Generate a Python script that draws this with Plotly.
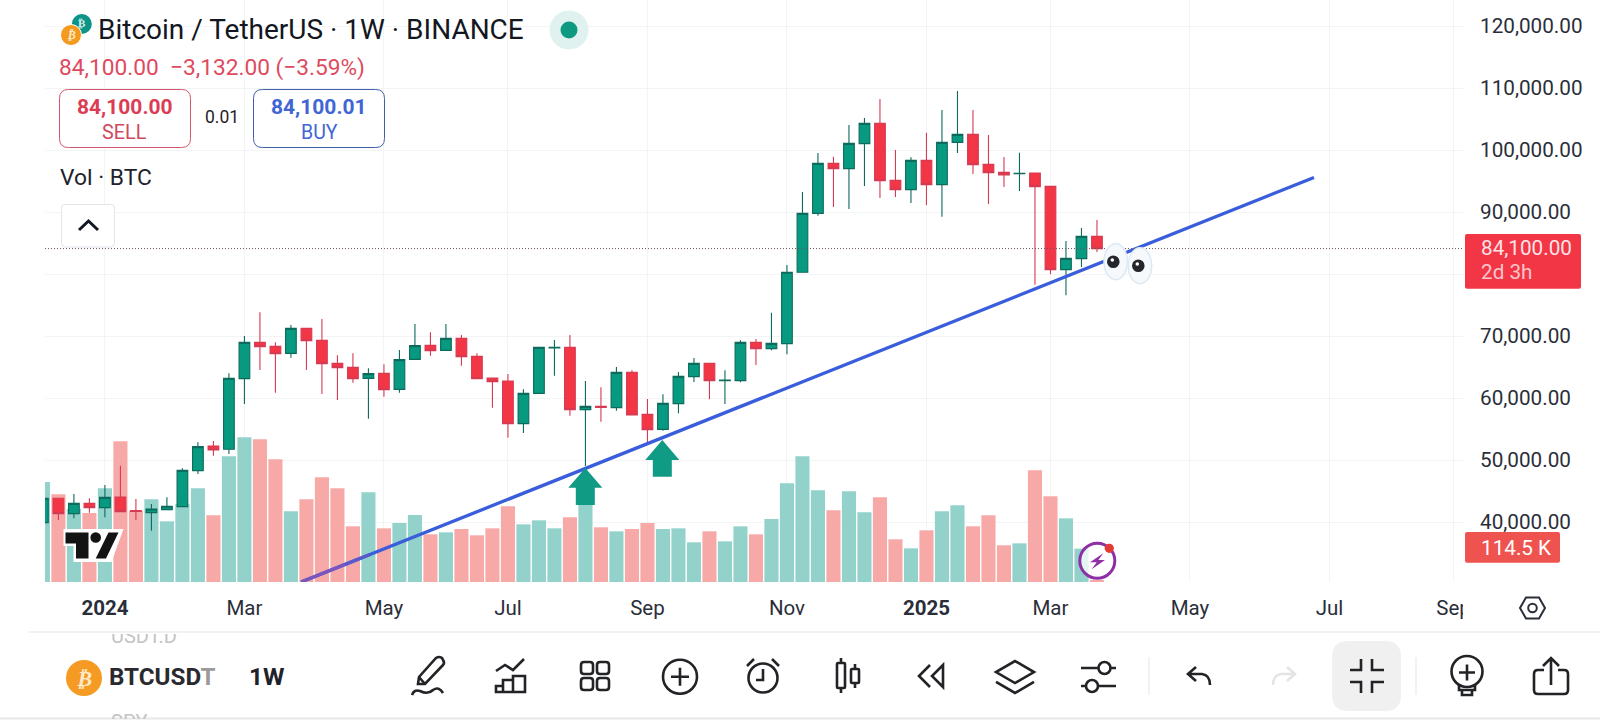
import re
import pandas as pd
import plotly.graph_objects as go

# ---------- data ----------
weeks = pd.date_range("2023-12-04", periods=69, freq="7D")
opens = [39895, 43820, 41345, 43012, 42313, 44034, 41830, 41507, 41991, 42475, 48280, 52260, 51722, 63118, 68978, 68333, 67204, 71236, 69301, 65592, 64946, 63172, 63978, 61398, 66237, 68495, 67688, 69624, 66721, 63226, 62742, 55860, 60753, 68065, 68172, 58119, 58656, 58441, 64140, 57366, 54946, 59086, 63441, 65592, 62796, 62796, 68978, 67957, 68764, 80271, 89786, 97850, 96990, 101022, 104301, 95108, 93603, 98334, 94409, 101237, 102527, 97689, 96398, 96183, 96291, 94140, 80701, 82475, 86076]
highs = [44000, 43820, 44518, 43820, 45969, 49087, 43712, 42905, 43980, 48657, 52850, 53066, 63978, 70000, 73817, 68978, 71774, 71236, 72742, 66882, 67204, 64785, 65430, 67742, 71935, 70591, 71935, 70161, 67204, 63280, 63871, 61398, 68280, 69355, 70161, 62742, 61720, 65000, 64463, 59839, 60592, 64194, 66452, 65592, 64463, 69301, 69516, 73763, 81453, 93227, 99517, 98925, 104032, 105161, 108226, 99980, 98818, 102796, 106452, 109516, 106452, 102420, 98871, 99570, 96291, 94140, 85323, 87421, 88710]
lows = [39500, 40324, 40593, 41507, 40754, 41668, 40324, 38604, 41991, 42475, 47744, 50700, 50968, 59033, 64516, 60860, 66505, 64516, 60645, 59678, 62473, 56667, 60215, 60860, 66237, 66828, 67688, 65215, 63118, 58441, 53603, 54355, 60753, 63602, 57150, 49034, 56183, 57957, 57258, 52692, 54731, 57527, 62581, 59785, 59033, 62527, 65323, 67688, 67043, 80271, 89410, 90808, 90485, 94194, 92259, 92420, 91452, 91130, 89248, 99517, 96130, 91291, 94033, 93388, 78281, 79948, 76561, 81131, 83550]
closes = [43820, 41345, 43012, 42313, 43980, 41668, 41722, 42098, 42529, 48334, 52152, 51614, 63172, 68978, 68280, 67150, 71236, 69247, 65538, 64893, 63118, 63925, 61344, 66183, 68441, 67634, 69624, 66667, 63118, 62635, 55860, 60753, 68172, 68172, 58119, 58656, 58495, 64140, 57258, 54892, 59140, 63495, 65592, 62796, 62903, 68978, 67957, 68817, 80271, 89786, 97850, 96990, 101076, 104301, 95055, 93603, 98334, 94409, 101237, 102527, 97635, 96345, 95969, 96237, 94087, 80701, 82528, 86076, 84100]
volumes_k = [343.5, 301.1, 251.9, 237, 321.7, 483.2, 243.9, 284, 208.4, 269.1, 321.7, 229, 431.7, 496.9, 490.1, 421.4, 242.7, 284, 359.5, 321.7, 191.2, 308, 184.3, 202.7, 230.1, 163.7, 170.6, 182.1, 160.3, 184.3, 259.9, 198.1, 211.8, 184.3, 222.1, 292, 187.8, 174, 182.1, 202.7, 182.1, 184.3, 136.3, 174, 139.7, 191.2, 163.7, 216.4, 338.9, 431.7, 314.9, 246.2, 311.4, 239.3, 290.8, 146.6, 115.6, 177.5, 242.7, 263.4, 191.2, 229, 126, 132.8, 383.6, 294.3, 218.7, 114.5, 4.6]

price_ticks = [40000, 50000, 60000, 70000, 80000, 90000, 100000, 110000, 120000]
price_labels = ["40,000.00", "50,000.00", "60,000.00", "70,000.00", "", "90,000.00", "100,000.00", "110,000.00", "120,000.00"]
time_ticks = ["2024-01-01", "2024-03-04", "2024-05-06", "2024-07-01", "2024-09-02", "2024-11-04",
              "2025-01-06", "2025-03-03", "2025-05-05", "2025-07-07", "2025-09-01"]
time_labels = ["<b>2024</b>", "Mar", "May", "Jul", "Sep", "Nov", "<b>2025</b>", "Mar", "May", "Jul", "Sep"]
trend_dates = ["2024-03-29 14:00", "2025-06-30"]
trend_prices = [30323, 95563]
trend_purple_dates = ["2024-03-29 14:00", "2024-04-18 12:00"]
trend_purple_prices = [30323, 33161]
trend_blend_dates = ["2024-04-18 12:00", "2024-04-29 16:00"]
trend_blend_prices = [33161, 34758]
last_price = 84100

# ---------- page geometry ----------
L, R, B = 45, 1463, 582
FONT = "Roboto"
INK = "#1f222b"
UP, UP_EDGE, DOWN, DOWN_EDGE = "#089981", "#0c6b5c", "#f23645", "#d63a52"
TEAL_VOL, PINK_VOL = "#92d2cb", "#f7a9a7"


def px(x):
    return (x - L) / (R - L)


def py(y):
    return (B - y) / B


def path(d):
    def rep(m):
        return f"{px(float(m.group(1))):.5f} {py(float(m.group(2))):.5f}"
    return re.sub(r"(-?[\d.]+) (-?[\d.]+)", rep, d)


shapes = []
ann = []


def sh_path(d, line=None, width=0, fill="rgba(0,0,0,0)"):
    shapes.append(dict(type="path", xref="paper", yref="paper", path=path(d), layer="above",
                       fillcolor=fill, line=dict(color=line or "rgba(0,0,0,0)", width=width)))


def rrect(x0, y0, x1, y1, r):
    return (f"M {x0 + r} {y0} L {x1 - r} {y0} Q {x1} {y0} {x1} {y0 + r} L {x1} {y1 - r} Q {x1} {y1} {x1 - r} {y1} "
            f"L {x0 + r} {y1} Q {x0} {y1} {x0} {y1 - r} L {x0} {y0 + r} Q {x0} {y0} {x0 + r} {y0} Z")


def ellipse(cx, cy, rx, ry, fill="rgba(0,0,0,0)", line=None, width=0):
    shapes.append(dict(type="circle", xref="paper", yref="paper", layer="above",
                       x0=px(cx - rx), x1=px(cx + rx), y0=py(cy + ry), y1=py(cy - ry), fillcolor=fill,
                       line=dict(color=line or "rgba(0,0,0,0)", width=width)))


def text(s, x, y, size, color=INK, anchor="left", **kw):
    ann.append(dict(text=s, x=px(x), y=py(y), xref="paper", yref="paper", xanchor=anchor, yanchor="middle",
                    showarrow=False, font=dict(family=FONT, size=size, color=color), borderpad=0, **kw))


# ---------- header ----------
ellipse(81.8, 24, 10, 10, fill="#0d9488")
text("<b>₿</b>", 81.8, 24, 11, "#d5f0ec", "center")
ellipse(71, 35, 10.5, 10.5, fill="#f39a1f", line="#ffffff", width=1)
text("<b><i>₿</i></b>", 71, 35, 12, "#ffe9c8", "center")
text("Bitcoin / TetherUS · 1W · BINANCE", 97, 29.5, 28, "#131722")
ellipse(569, 30, 19.5, 19.5, fill="#dff2ef")
ellipse(569, 30, 8.5, 8.5, fill="#0e9981")
text("84,100.00  −3,132.00 (−3.59%)", 58, 67, 22.7, "#de4a60")
sh_path(rrect(59.5, 89.5, 190.5, 147.5, 9), line="#d2566c", width=1, fill="#ffffff")
sh_path(rrect(253.5, 89.5, 384.5, 147.5, 9), line="#3f5fa8", width=1, fill="#ffffff")
text("<b>84,100.00</b>", 125, 107, 21, "#dc3c55", "center")
text("SELL", 124.5, 133, 19.8, "#cf4a60", "center")
text("0.01", 222, 117, 17.5, "#1f222b", "center")
text("<b>84,100.01</b>", 319, 107, 21, "#3f66d4", "center")
text("BUY", 319, 133, 19.5, "#3f66d4", "center")
text("Vol · BTC", 58.5, 177, 22.8, "#1f222b")
sh_path(rrect(61.5, 204.5, 114.5, 247, 4), line="#e2e4ea", width=1, fill="#ffffff")
sh_path("M 79 230 L 88.5 221 L 98 230", line="#131722", width=3)

# ---------- chart decorations ----------
for x, tip, base, bottom in [(585.3, 468, 487.7, 505), (662.3, 440, 460, 476.7)]:
    sh_path(f"M {x} {tip} L {x + 17} {base} L {x + 9.5} {base} L {x + 9.5} {bottom} L {x - 9.5} {bottom} "
            f"L {x - 9.5} {base} L {x - 17} {base} Z", fill="#0f9b84")

# TradingView watermark
sh_path("M 63.5 529 L 123.5 529 L 111.5 562 L 73.5 562 L 73.5 546 L 63.5 546 Z", fill="#ffffff")
sh_path("M 65.5 532.5 L 88.5 532.5 L 88.5 558.5 L 76 558.5 L 76 543.5 L 65.5 543.5 Z", fill="#131313")
ellipse(95.7, 537.5, 5.3, 5.3, fill="#131313")
sh_path("M 108.5 532.5 L 118.5 532.5 L 106 558.5 L 95.7 558.5 Z", fill="#131313")

# eyes
ellipse(1115.7, 261.7, 11.7, 18, fill="#f5f9fc", line="#dce9f4", width=1.5)
ellipse(1140, 265.7, 11.7, 18, fill="#f5f9fc", line="#dce9f4", width=1.5)
ellipse(1113.3, 261.7, 6.3, 6.3, fill="#24262b")
ellipse(1138.3, 265.7, 6.3, 6.3, fill="#24262b")
ellipse(1112.3, 260, 1.8, 1.8, fill="#ffffff")
ellipse(1137.3, 264, 1.8, 1.8, fill="#ffffff")

# lightning badge
ellipse(1097.3, 560.7, 17.5, 17.5, fill="rgba(255,255,255,0.75)", line="#8e2fa6", width=3)
sh_path("M 1103.3 553.3 L 1090 562.3 L 1096.7 562.3 L 1091.7 569.3 L 1105 560 L 1098.3 560 Z", fill="#8e2fa6")
ellipse(1109.3, 548.3, 4.6, 4.6, fill="#e53935")

# price-axis tags
sh_path("M 1463 585 L 1477 585 L 1477 630 L 1463 630 Z", fill="#ffffff")
sh_path(rrect(1465, 234, 1581, 288.7, 2), fill="#f23645")
text("84,100.00", 1479.5, 248, 20.7, "#fde4e7")
text("2d 3h", 1479.5, 272, 20.7, "#fbc6cd")
sh_path(rrect(1465, 532, 1560, 562.7, 2), fill="#ef5350")
text("114.5 K", 1479.5, 548, 20.7, "#ffffff")
sh_path("M 1520 608 L 1526 597.5 L 1539 597.5 L 1545 608 L 1539 618.5 L 1526 618.5 Z", line="#2a2e39", width=2)
ellipse(1532.5, 608, 4.3, 4.3, line="#2a2e39", width=2)

# ---------- bottom bar ----------
sh_path("M 29 632 L 1600 632", line="#ececec", width=1.5)
sh_path("M 0 718.5 L 1600 718.5", line="#e8e8e8", width=2)
ellipse(84, 678, 18, 18, fill="#f59a23")
text("<b><i>₿</i></b>", 84, 678, 22, "#ffe9c8", "center")
ann.append(dict(text="USDT.D", x=px(110), y=py(633), xref="paper", yref="paper", xanchor="left", yanchor="top",
                showarrow=False, height=14, valign="bottom", borderpad=0,
                font=dict(family=FONT, size=20, color="#c4c4c4")))
ann.append(dict(text="SPY", x=px(110), y=py(709), xref="paper", yref="paper", xanchor="left", yanchor="top",
                showarrow=False, height=9, valign="top", borderpad=0,
                font=dict(family=FONT, size=20, color="#c4c4c4")))
text("<b>BTCUSD</b><span style='color:#9a9a9a'><b>T</b></span>", 108, 677, 24.2, "#2a2a2e")
text("<b>1W</b>", 267, 676, 24.5, "#1f222b", "center")

S = dict(line="#222326", width=2.6)
# pencil
sh_path("M 418 684 L 419 677 L 436 658 Q 439 656 442 658 L 443 660 Q 445 663 443 665 L 425 684 Z", **S)
sh_path("M 419 677 L 425 684", **S)
sh_path("M 412 695 Q 414 689 420 691 Q 428 695 433 690 Q 439 686 443 693", **S)
# chart
sh_path("M 496 671 L 505 665 L 513 670 L 524 659", **S)
sh_path("M 496 692 L 496 686 L 503 686 L 503 692 Z M 503 692 L 503 680 L 513 680 L 513 692 Z M 513 692 L 513 676 L 525 676 L 525 692 Z", **S)
# grid
for gx, gy in [(581, 662), (597, 662), (581, 678), (597, 678)]:
    sh_path(rrect(gx, gy, gx + 12, gy + 12, 3), **S)
# plus
ellipse(680, 676.7, 17, 17, line="#222326", width=2.6)
sh_path("M 671 676.7 L 689 676.7 M 680 667.7 L 680 685.7", **S)
# alarm
ellipse(763, 678, 14.5, 14.5, line="#222326", width=2.6)
sh_path("M 763 669 L 763 680 L 756 680 M 747 666 L 754 659 M 779 666 L 772 659", **S)
# candles
sh_path(rrect(837, 663, 845, 688, 1), **S)
sh_path("M 841 658 L 841 663 M 841 688 L 841 693", **S)
sh_path(rrect(851, 669, 859, 683, 1), **S)
sh_path("M 855 664 L 855 669 M 855 683 L 855 688", **S)
# rewind
sh_path("M 930 665 L 919 676 L 930 687 M 943 665 L 932 676 L 943 687 Z", **S)
# layers
sh_path("M 1015 661 L 1034 672 L 1015 683 L 996 672 Z", **S)
sh_path("M 996 682 L 1015 693 L 1034 682", **S)
# sliders
sh_path("M 1081 668 L 1098 668 M 1111 668 L 1116 668 M 1081 686 L 1086 686 M 1098 686 L 1116 686", **S)
ellipse(1104.5, 668, 6, 6, line="#222326", width=2.6)
ellipse(1092, 686, 6, 6, line="#222326", width=2.6)
# dividers
sh_path("M 1149 657 L 1149 695", line="#eeeeee", width=1.5)
sh_path("M 1416 657 L 1416 695", line="#eeeeee", width=1.5)
# undo, redo
sh_path("M 1196 667 L 1188 674 L 1196 681 M 1188 674 L 1202 674 Q 1210 675 1210 685", **S)
sh_path("M 1287 667 L 1295 674 L 1287 681 M 1295 674 L 1281 674 Q 1273 675 1273 685", line="#e4e4e4", width=2.6)
# shrink
sh_path(rrect(1332, 641, 1401, 711, 16), fill="#f0f0f0")
sh_path("M 1350 670 L 1361 670 L 1361 659 M 1372 659 L 1372 670 L 1384 670 M 1350 682 L 1361 682 L 1361 693 M 1384 682 L 1372 682 L 1372 693", **S)
# bulb
ellipse(1467, 671.5, 15.5, 15.5, line="#222326", width=2.6)
sh_path("M 1459 672.5 L 1475 672.5 M 1467 664.5 L 1467 680.5", **S)
sh_path("M 1459 685 L 1459 690 L 1475 690 L 1475 685 M 1462 690 L 1462 695 L 1472 695 L 1472 690", **S)
# share
sh_path("M 1544 670 L 1538 670 Q 1534 670 1534 674 L 1534 690 Q 1534 694 1538 694 L 1564 694 Q 1568 694 1568 690 L 1568 674 Q 1568 670 1564 670 L 1558 670", **S)
sh_path("M 1551 685 L 1551 659 M 1543 666 L 1551 658 L 1559 666", **S)

# ---------- chart ----------
vol_colors = [TEAL_VOL if c >= o else PINK_VOL for o, c in zip(opens, closes)]
fig = go.Figure()
fig.add_trace(go.Bar(x=weeks, y=volumes_k, marker=dict(color=vol_colors, line=dict(width=0)),
                     yaxis="y", hoverinfo="skip", showlegend=False))
fig.add_trace(go.Candlestick(x=weeks, open=opens, high=highs, low=lows, close=closes, yaxis="y2",
                             whiskerwidth=0, hoverinfo="skip", showlegend=False,
                             increasing=dict(fillcolor=UP, line=dict(color=UP_EDGE, width=1.1)),
                             decreasing=dict(fillcolor=DOWN, line=dict(color=DOWN_EDGE, width=1.1))))
fig.add_trace(go.Scatter(x=trend_dates, y=trend_prices, yaxis="y2", mode="lines", hoverinfo="skip",
                         line=dict(color="#3a5edb", width=3.3), showlegend=False))
fig.add_trace(go.Scatter(x=trend_purple_dates, y=trend_purple_prices, yaxis="y2", mode="lines", hoverinfo="skip",
                         line=dict(color="#7a55bd", width=3.3), showlegend=False))
fig.add_trace(go.Scatter(x=trend_blend_dates, y=trend_blend_prices, yaxis="y2", mode="lines", hoverinfo="skip",
                         line=dict(color="#5a59cc", width=3.3), showlegend=False))

shapes.insert(0, dict(type="line", xref="paper", yref="y2", x0=0, x1=1, y0=last_price, y1=last_price,
                      layer="above", line=dict(color="#6a5058", width=1, dash="1px,2px")))

fig.update_layout(
    width=1600, height=720, autosize=False,
    margin=dict(l=L, r=1600 - R, t=0, b=720 - B, pad=0),
    paper_bgcolor="#ffffff", plot_bgcolor="#ffffff",
    font=dict(family=FONT, size=20.5, color=INK),
    bargap=0.09, boxgap=0.31, boxgroupgap=0, showlegend=False, hovermode=False,
    xaxis=dict(type="date", range=["2023-12-04 22:40", "2025-09-05 07:00"], rangeslider=dict(visible=False),
               tickmode="array", tickvals=time_ticks, ticktext=time_labels, ticks="", tickangle=0,
               showgrid=True, gridcolor="#f3f4f6", gridwidth=1, zeroline=False, showline=False,
               ticklabelstandoff=11, tickfont=dict(family=FONT, size=20.5, color="#2a2e39")),
    yaxis=dict(range=[0, 1999], showgrid=False, showticklabels=False, zeroline=False, showline=False, ticks=""),
    yaxis2=dict(overlaying="y", side="right", anchor="x", range=[30323, 124193], tickmode="array",
                tickvals=price_ticks, ticktext=price_labels, ticks="", showgrid=True, gridcolor="#f3f4f6",
                gridwidth=1, zeroline=False, showline=False, ticklabelstandoff=16,
                tickfont=dict(family=FONT, size=20.7, color="#2a2e39")),
    shapes=shapes, annotations=ann,
)

fig.write_html("out.html", config=dict(displayModeBar=False),
               post_script="document.body.style.margin='0';document.body.style.overflow='hidden';")
